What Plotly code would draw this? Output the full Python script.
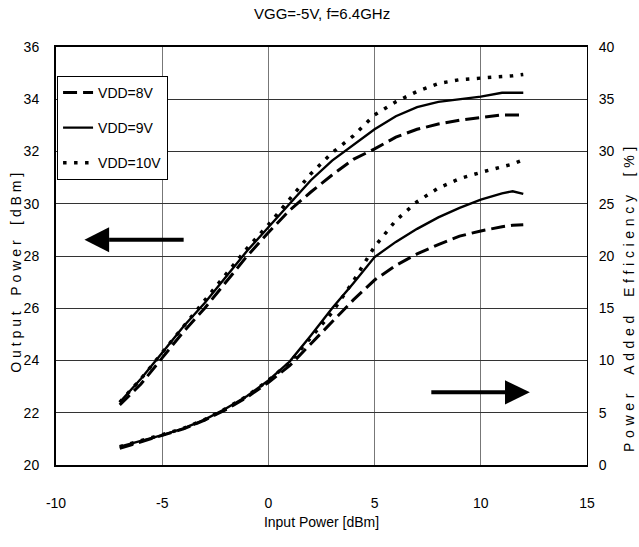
import plotly.graph_objects as go

# ---- data ----
pin = [-7, -6, -5, -4, -3, -2, -1, 0, 1, 2, 3, 4, 5, 6, 7, 8, 9, 10, 11, 11.5, 12]

pout_8v = [22.3, 23.1, 24.1, 25.1, 26.0, 27.0, 28.0, 28.9, 29.75, 30.45, 31.1, 31.7, 32.1, 32.55, 32.85, 33.05, 33.2, 33.3, 33.4, 33.4, 33.4]
pout_9v = [22.4, 23.3, 24.3, 25.3, 26.2, 27.2, 28.2, 29.1, 30.0, 30.9, 31.65, 32.25, 32.85, 33.35, 33.7, 33.9, 34.0, 34.1, 34.25, 34.25, 34.25]
pout_10v = [22.4, 23.3, 24.3, 25.3, 26.3, 27.3, 28.3, 29.2, 30.2, 31.15, 31.95, 32.6, 33.4, 33.9, 34.3, 34.6, 34.75, 34.8, 34.85, 34.9, 34.95]

pae_8v = [1.6, 2.2, 2.8, 3.45, 4.3, 5.3, 6.5, 7.9, 9.5, 11.6, 13.7, 15.8, 17.7, 19.1, 20.2, 21.1, 21.9, 22.4, 22.8, 22.95, 23.0]
pae_9v = [1.75, 2.3, 2.85, 3.5, 4.35, 5.4, 6.6, 8.1, 9.9, 12.4, 15.0, 17.4, 19.9, 21.35, 22.6, 23.7, 24.6, 25.4, 26.0, 26.2, 25.95]
pae_10v = [1.75, 2.3, 2.9, 3.5, 4.35, 5.4, 6.6, 8.1, 9.8, 12.2, 14.6, 17.6, 20.9, 23.4, 25.2, 26.5, 27.4, 28.0, 28.5, 28.8, 29.2]

series_names = ["VDD=8V", "VDD=9V", "VDD=10V"]

x_tickvals = [-10, -5, 0, 5, 10, 15]
x_ticktext = ["-10", "-5", "0", "5", "10", "15"]

title_text = "VGG=-5V, f=6.4GHz"
x_title = "Input Power [dBm]"
y_title = "Output Power [dBm]"
y2_title = "Power Added Efficiency [%]"

FONT = "Liberation Sans, Arial, sans-serif"
FS = 14

styles = [
    dict(color="black", width=3, dash="14px,6px"),
    dict(color="black", width=2.4, dash="solid"),
    dict(color="black", width=3.5, dash="3.5px,7.5px"),
]


def spaced(s, sep="\u00a0"):
    out = []
    for c in s:
        out.append(sep + sep if c == " " else c)
    return sep.join(out)


fig = go.Figure()
for name, pout, st in zip(series_names, [pout_8v, pout_9v, pout_10v], styles):
    fig.add_trace(go.Scatter(x=pin, y=pout, mode="lines", name=name, line=st,
                             legendgroup=name, showlegend=True))
for name, pae, st in zip(series_names, [pae_8v, pae_9v, pae_10v], styles):
    fig.add_trace(go.Scatter(x=pin, y=pae, mode="lines", name=name, line=st,
                             legendgroup=name, showlegend=False, yaxis="y2"))

# arrows (annotation graphics)
left_arrow = dict(tail=-3.99, base=-7.5, tip=-8.66, y=28.62, half=0.478)
right_arrow = dict(tail=7.67, base=11.14, tip=12.31, y=6.95, half=1.15)
shapes = []
for a, yr in [(left_arrow, "y"), (right_arrow, "y2")]:
    shapes.append(dict(type="line", xref="x", yref=yr, x0=a["tail"], x1=a["base"],
                       y0=a["y"], y1=a["y"], line=dict(color="black", width=4)))
    shapes.append(dict(type="path", xref="x", yref=yr,
                       path=f"M{a['tip']},{a['y']} L{a['base']},{a['y'] + a['half']} L{a['base']},{a['y'] - a['half']} Z",
                       fillcolor="black", line=dict(color="black", width=0)))

fig.update_layout(
    width=639, height=547,
    margin=dict(l=56, r=52, t=47, b=82, autoexpand=False),
    paper_bgcolor="white", plot_bgcolor="white",
    font=dict(family=FONT, size=FS, color="black"),
    showlegend=True,
    legend=dict(x=0.002, y=0.931, xanchor="left", yanchor="top",
                bordercolor="black", borderwidth=1, bgcolor="white",
                font=dict(family=FONT, size=FS), tracegroupgap=14,
                itemwidth=30),
    shapes=shapes,
    annotations=[
        dict(text=title_text, xref="paper", yref="paper", x=0.5, y=1.0806,
             showarrow=False, font=dict(family=FONT, size=15), xanchor="center", yanchor="middle"),
        dict(text=spaced(y_title), xref="paper", yref="paper", x=0, xshift=-40, y=0.46,
             textangle=-90, showarrow=False, font=dict(family=FONT, size=FS),
             xanchor="center", yanchor="middle"),
        dict(text=spaced(y2_title, "\u2004"), xref="paper", yref="paper", x=1, xshift=42, y=0.395,
             textangle=-90, showarrow=False, font=dict(family=FONT, size=FS),
             xanchor="center", yanchor="middle"),
    ],
    xaxis=dict(range=[-10, 15], tickvals=x_tickvals, ticktext=x_ticktext,
               showgrid=True, gridcolor="#777",
               gridwidth=1, zeroline=False, showline=True, linecolor="black", linewidth=1.5,
               mirror=True, ticks="", ticklabelstandoff=24, automargin=False,
               title=dict(text=x_title, standoff=8, font=dict(family=FONT, size=FS))),
    yaxis=dict(range=[20, 36], dtick=2, showgrid=True, gridcolor="#333", gridwidth=1,
               zeroline=False, showline=True, linecolor="black", linewidth=2,
               ticks="", ticklabelstandoff=12, automargin=False),
    yaxis2=dict(range=[0, 40], dtick=5, overlaying="y", side="right", showgrid=False,
                zeroline=False, showline=True, linecolor="black", linewidth=1,
                ticks="", ticklabelstandoff=8, automargin=False),
)

# remove the page's default 8px body margin so the figure fills the window exactly
fig.write_html("out.html", config={"displayModeBar": False},
               post_script="document.body.style.margin='0px';document.body.style.overflow='hidden';")
